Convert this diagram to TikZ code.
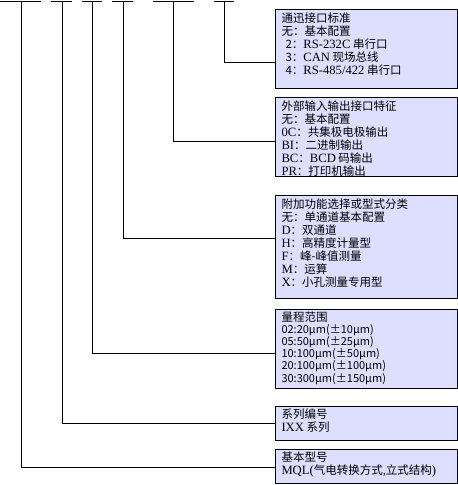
\documentclass[tikz,border=0pt]{standalone}
\usepackage{fontspec}
\setmainfont[Scale=1.1]{Liberation Serif}
\newfontfamily\cjk{Noto Sans CJK SC}
\definecolor{boxfill}{RGB}{222,222,255}
\begin{document}
\begin{tikzpicture}[x=1pt,y=-1pt,
  line width=1pt,
  box/.style={draw=black,fill=boxfill,line width=1pt,anchor=north west,minimum width=182pt,inner sep=0pt},
  txt/.style={anchor=north west,align=left,inner sep=0pt,font=\fontsize{11.5}{13}\selectfont\cjk},
  txtsm/.style={txt,font=\fontsize{11}{12.2}\selectfont\cjk}]
\useasboundingbox (0,0) rectangle (458,485);
% boxes
\node[box,minimum height=79pt] (b1) at (275,9) {};
\node[box,minimum height=79pt] (b2) at (275,97) {};
\node[box,minimum height=103pt] (b3) at (275,195) {};
\node[box,minimum height=79pt] (b4) at (275,309) {};
\node[box,minimum height=34pt] (b5) at (275,406) {};
\node[box,minimum height=34pt] (b6) at (275,449) {};
% texts
\node[txt] (t1) at ([shift={(6,3)}]b1.north west) {通迅接口标准\\无：基本配置\\\hspace*{4pt}2：{\rmfamily RS-232C} 串行口\\\hspace*{4pt}3：{\rmfamily CAN} 现场总线\\\hspace*{4pt}4：{\rmfamily RS-485/422} 串行口};
\node[txt] (t2) at ([shift={(6,3)}]b2.north west) {外部输入输出接口特征\\无：基本配置\\{\rmfamily 0C}：共集极电极输出\\{\rmfamily BI}：二进制输出\\{\rmfamily BC}：{\rmfamily BCD} 码输出\\{\rmfamily PR}：打印机输出};
\node[txt] (t3) at ([shift={(6,3)}]b3.north west) {附加功能选择或型式分类\\无：单通道基本配置\\{\rmfamily D}：双通道\\{\rmfamily H}：高精度计量型\\{\rmfamily F}：峰-峰值测量\\{\rmfamily M}：运算\\{\rmfamily X}：小孔测量专用型};
\node[txtsm] (t4) at ([shift={(6,2)}]b4.north west) {{\fontsize{11.5}{12.2}\selectfont 量程范围}\\02:20μm(±10μm)\\05:50μm(±25μm)\\10:100μm(±50μm)\\20:100μm(±100μm)\\30:300μm(±150μm)};
\node[txt] (t5) at ([shift={(6,2)}]b5.north west) {系列编号\\{\rmfamily IXX} 系列};
\node[txt] (t6) at ([shift={(6,2)}]b6.north west) {基本型号\\{\rmfamily MQL(}气电转换方式{\rmfamily ,}立式结构{\rmfamily )}};
% top bars
\coordinate (l1) at (0,1.5);   \coordinate (r1) at (41,1.5);  \coordinate (s1) at (21,1.5);
\coordinate (l2) at (51,1.5);  \coordinate (r2) at (72,1.5);  \coordinate (s2) at (62,1.5);
\coordinate (l3) at (82,1.5);  \coordinate (r3) at (102,1.5); \coordinate (s3) at (92,1.5);
\coordinate (l4) at (112,1.5); \coordinate (r4) at (133,1.5); \coordinate (s4) at (123,1.5);
\coordinate (l5) at (153,1.5); \coordinate (r5) at (194,1.5); \coordinate (s5) at (173,1.5);
\coordinate (l6) at (214,1.5); \coordinate (r6) at (234,1.5); \coordinate (s6) at (224,1.5);
\foreach \i in {1,...,6} {\draw (l\i) -- (r\i);}
% connectors
\draw (s6) |- (b1.west |- 0,62);
\draw (s5) |- (b2.west |- 0,141);
\draw (s4) |- (b3.west |- 0,238);
\draw (s3) |- (b4.west |- 0,353);
\draw (s2) |- (b5.west |- 0,423);
\draw (s1) |- (b6.west |- 0,467);
\end{tikzpicture}
\end{document}
